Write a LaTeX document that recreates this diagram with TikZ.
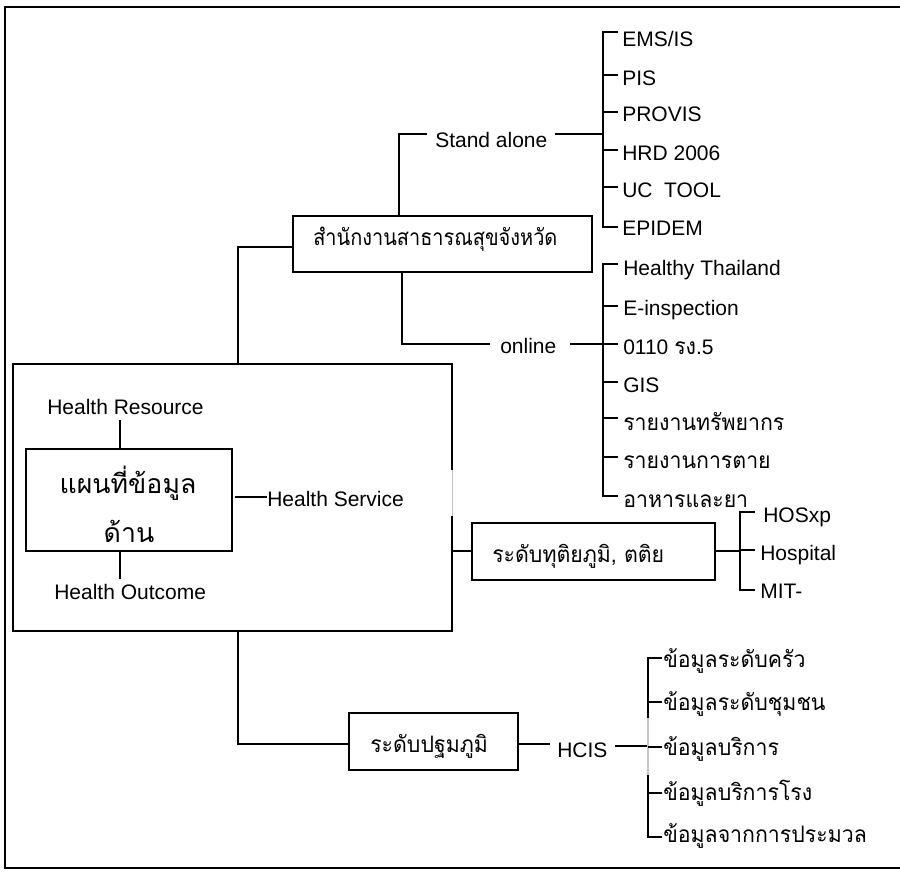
\documentclass[tikz,border=0pt]{standalone}
\usepackage{fontspec}
\setmainfont{Liberation Sans}
\newfontfamily\thaifont[Script=Thai,FakeStretch=0.94]{Loma}
\newfontfamily\thaifontn[Script=Thai,FakeStretch=0.88]{Loma}
\newfontfamily\thaifontw[Script=Thai]{Loma}
\begin{document}
\begin{tikzpicture}[x=0.75pt,y=-0.75pt,
  frame/.style={line width=1.4pt},
  box/.style={draw,line width=1.2pt,inner sep=0pt},
  conn/.style={line width=1pt},
  lbl/.style={inner sep=0pt,anchor=base west,font=\fontsize{15.75}{18}\selectfont},
  thai/.style={inner sep=0pt,anchor=base west,font=\thaifont\fontsize{17}{20}\selectfont},
  thain/.style={inner sep=0pt,anchor=base west,font=\thaifontn\fontsize{17}{20}\selectfont},
  thaibig/.style={inner sep=0pt,anchor=base,font=\thaifontw\fontsize{20}{24}\selectfont}]
\useasboundingbox (0,0) rectangle (900,874);
\draw[frame] (900,7) -- (5,7) -- (5,868) -- (900,868);

% boxes
\node[box,minimum width=329.25pt,minimum height=200.25pt] (main) at (232.5,497.5) {};
\node[box,minimum width=154.5pt,minimum height=76.5pt] (inner) at (129,500) {};
\node[box,minimum width=224.25pt,minimum height=42pt] (office) at (442.5,244) {};
\node[box,minimum width=182.25pt,minimum height=42.75pt] (sec) at (593.5,551.5) {};
\node[box,minimum width=126.75pt,minimum height=42.75pt] (prim) at (433.5,741.5) {};
\draw[white,line width=1.4pt] (452,470) -- (452,516);
\draw[gray!50,line width=0.6pt] (452,470) -- (452,516);

% texts in boxes
\node[thaibig] (t1) at (128,493) {แผนที่ข้อมูล};
\node[thaibig] (t2) at (129,542) {ด้าน};
\node[thain] (officetxt) at (313,245) {สำนักงานสาธารณสุขจังหวัด};
\node[thai] (sectxt) at (492,562) {ระดับทุติยภูมิ, ตติย};
\node[thai] (primtxt) at (370,752) {ระดับปฐมภูมิ};

% labels in main box
\node[lbl] (hr) at (47,414) {Health Resource};
\node[lbl] (hs) at (267,506) {Health Service};
\node[lbl] (ho) at (54,599) {Health Outcome};
\draw[conn] (inner.north -| 120,0) -- (120,420);
\draw[conn] (inner.south -| 120,0) -- (120,579);
\draw[conn] (235,497) -- (hs.west |- 0,497);

% office branch
\coordinate (j1) at (238,247);
\draw[conn] (main.north -| j1) -- (j1) -- (office.west |- j1);
\node[lbl] (sa) at (435,147) {Stand alone};
\draw[conn] (office.north -| 399,0) -- (399,134) -- (427,134);
\draw[conn] (555,134) -- (603,134);
\draw[conn] (618,32) -- (603,32) -- (603,227) -- (618,227);
\foreach \yy in {75,112,150,187} \draw[conn] (603,\yy) -- (618,\yy);
\node[lbl] (s1) at (622,47) {EMS/IS};
\node[lbl] (s2) at (622,85) {PIS};
\node[lbl] (s3) at (622,122) {PROVIS};
\node[lbl] (s4) at (622,160) {HRD 2006};
\node[lbl] (s5) at (622,197) {UC\hspace{0.55em}TOOL};
\node[lbl] (s6) at (622,235) {EPIDEM};

\node[lbl] (on) at (500,353) {online};
\draw[conn] (office.south -| 402,0) -- (402,344) -- (490,344);
\draw[conn] (570,344) -- (603,344);
\draw[conn] (618,264) -- (603,264) -- (603,496) -- (618,496);
\foreach \yy in {306,344,382,418,457} \draw[conn] (603,\yy) -- (618,\yy);
\node[lbl] (o1) at (623,275) {Healthy Thailand};
\node[lbl] (o2) at (623,315) {E-inspection};
\node[lbl] (o3) at (623,354) {0110 {\thaifont\fontsize{17}{20}\selectfont รง}.5};
\node[lbl] (o4) at (623,392) {GIS};
\node[thai] (o5) at (623,430) {รายงานทรัพยากร};
\node[thai] (o6) at (623,468) {รายงานการตาย};
\node[thai] (o7) at (623,507) {อาหารและยา};

% secondary branch
\draw[conn] (main.east |- 0,551) -- (sec.west |- 0,551);
\draw[conn] (sec.east |- 0,551) -- (740,551);
\draw[conn] (755,512) -- (740,512) -- (740,590) -- (755,590);
\draw[conn] (740,550) -- (755,550);
\node[lbl] (h1) at (763,522) {HOSxp};
\node[lbl] (h2) at (760,560) {Hospital};
\node[lbl] (h3) at (760,598) {MIT-};

% primary branch
\draw[conn] (main.south -| 238,0) -- (238,744) -- (prim.west |- 0,744);
\draw[conn] (prim.east |- 0,744) -- (550,744);
\node[lbl] (hc) at (557,757) {HCIS};
\draw[conn] (615,746) -- (648,746);
\draw[conn] (662,658) -- (648,658) -- (648,837) -- (662,837);
\draw[gray!45,line width=1pt] (648,718) -- (648,775);
\foreach \yy in {702,747,793} \draw[conn] (648,\yy) -- (662,\yy);
\node[thai] (p1) at (663,667) {ข้อมูลระดับครัว};
\node[thai] (p2) at (663,710) {ข้อมูลระดับชุมชน};
\node[thai] (p3) at (663,755) {ข้อมูลบริการ};
\node[thai] (p4) at (663,800) {ข้อมูลบริการโรง};
\node[thai] (p5) at (663,842) {ข้อมูลจากการประมวล};
\end{tikzpicture}
\end{document}
